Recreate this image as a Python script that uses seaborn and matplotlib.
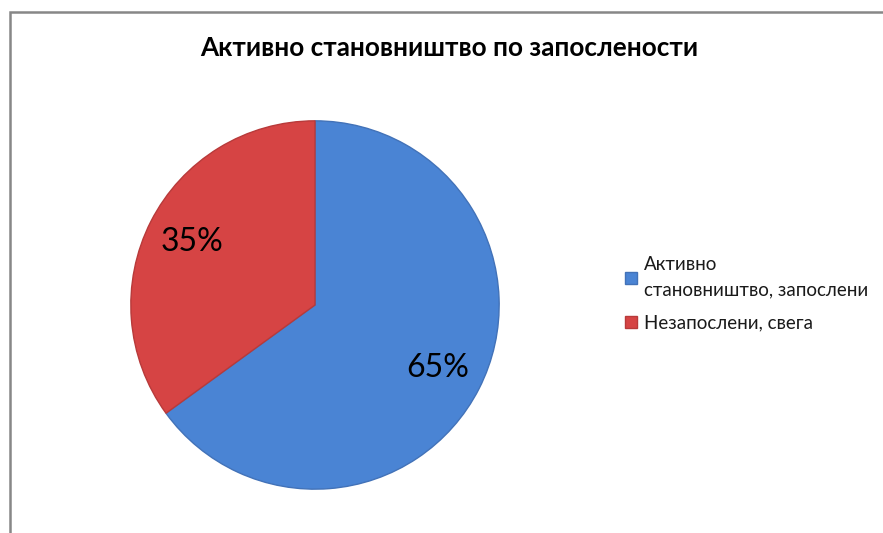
import seaborn as sns
import matplotlib.pyplot as plt
from matplotlib.patches import Rectangle

categories = ['Активно\nстановништво, запослени', 'Незапослени, свега']
shares = [65, 35]
title = 'Активно становништво по запослености'

sns.set_theme(style='white')
plt.rcParams['font.family'] = ['Lato', 'Open Sans', 'DejaVu Sans']
plt.rcParams['text.color'] = 'black'

colors = ['#4A84D4', '#D64444']
edges = ['#4272B8', '#B83A3A']

fig = plt.figure(figsize=(8.83, 5.33), dpi=100)

# chart frame (only left and top visible in the reference)
fig.patches.append(Rectangle((10 / 883, -0.5), 2, 0.5 + 1 - 12 / 533,
                             transform=fig.transFigure, fill=False,
                             edgecolor='#878787', linewidth=1.8))

ax = fig.add_axes([(315 - 186) / 883, (533 - 491) / 533, 372 / 883, 372 / 533])
wedges, texts, autotexts = ax.pie(shares, colors=colors, startangle=90,
                                  counterclock=False, autopct='%d%%',
                                  pctdistance=0.75,
                                  wedgeprops=dict(linewidth=1.0),
                                  textprops=dict(fontsize=23, color='black'))
for w, e in zip(wedges, edges):
    w.set_edgecolor(e)
ax.set_xlim(-1.01, 1.01)
ax.set_ylim(-1.01, 1.01)
ax.set_aspect('equal')

fig.text(449 / 883, 1 - 48 / 533, title, ha='center', va='center',
         fontsize=18.8, fontweight='bold', color='black')

leg = fig.legend(wedges, categories, loc='center left',
                 bbox_to_anchor=(608 / 883, 1 - 294 / 533), frameon=False,
                 fontsize=13.5, handlelength=0.65, handleheight=0.65,
                 handletextpad=0.35, labelspacing=0.85)
for t in leg.get_texts():
    t.set_linespacing(1.6)
    t.set_color('#1a1a1a')

fig.savefig('out.png', dpi=100)
